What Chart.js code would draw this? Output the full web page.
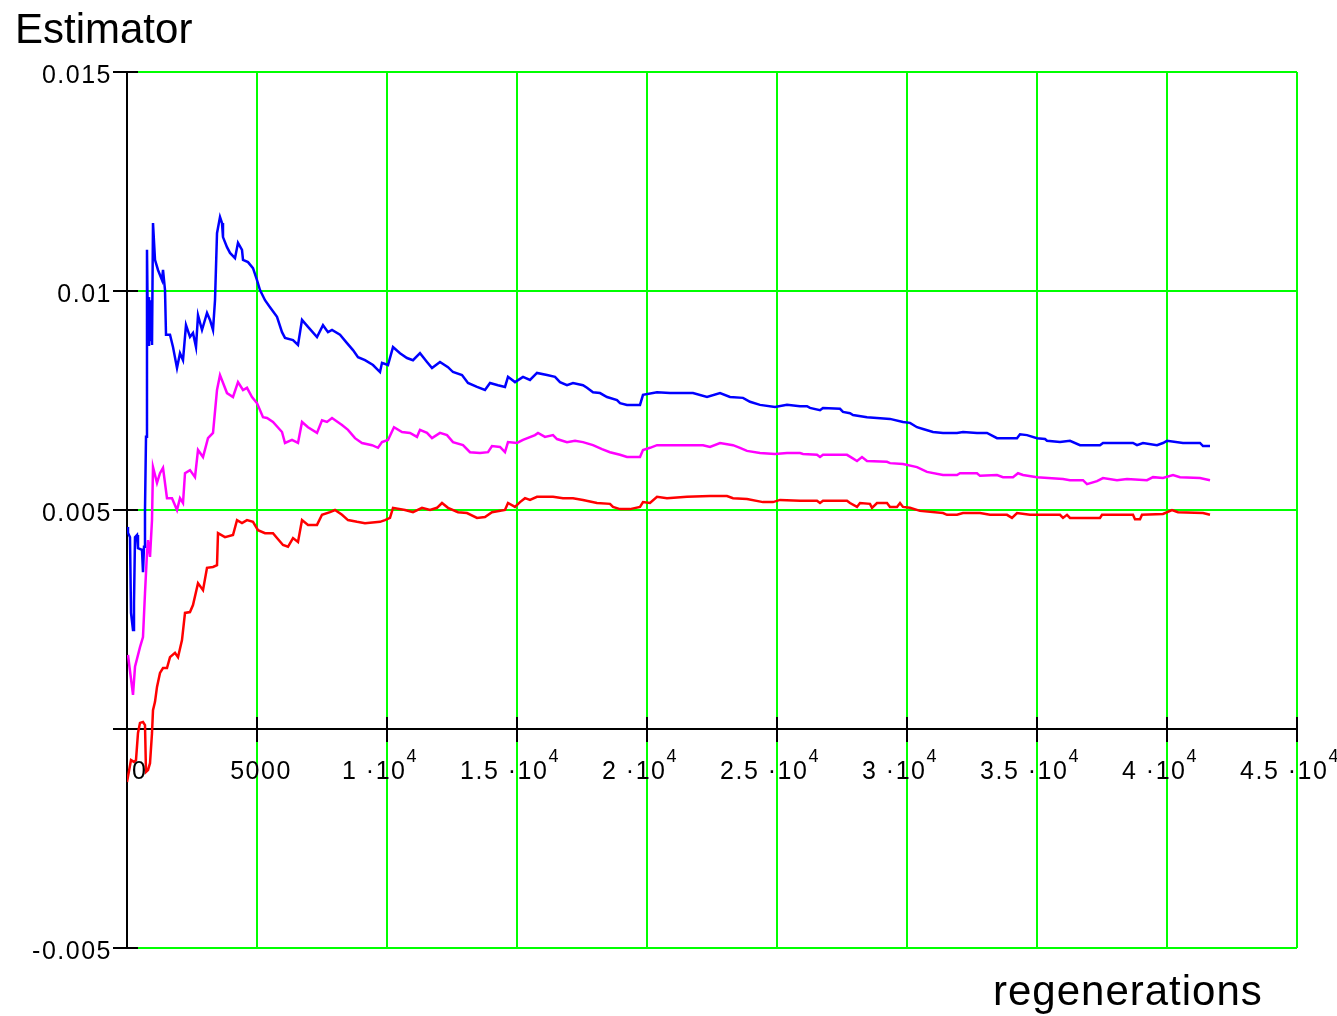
<!DOCTYPE html>
<html>
<head>
<meta charset="utf-8">
<title>Estimator vs regenerations</title>
<script src="https://cdn.jsdelivr.net/npm/chart.js@4.4.1/dist/chart.umd.min.js"></script>
<style>
  html, body { margin: 0; padding: 0; background: #ffffff; }
  #wrap { width: 1337px; height: 1016px; }
</style>
</head>
<body>
<div id="wrap"><canvas id="plot" width="1337" height="1016"></canvas></div>
<script>
// ---- data: running estimator and its bounds vs number of regenerations ----
const upperX = [0,38,115,154,231,269,308,385,423,577,615,654,692,731,769,808,846,885,923,962,1000,1077,1192,1346,1385,1462,1500,1654,1769,1923,2038,2154,2269,2423,2538,2654,2731,2885,3077,3192,3308,3385,3462,3577,3654,3692,3846,3962,4154,4269,4423,4462,4654,4846,5000,5115,5308,5500,5769,5962,6077,6385,6577,6731,6962,7308,7538,7731,7885,8192,8462,8692,8885,9154,9462,9731,9808,10038,10231,10500,10769,11000,11269,11538,11731,12038,12346,12538,12885,13115,13462,13769,13962,14269,14538,14654,14923,15231,15500,15769,16154,16462,16654,16923,17154,17538,17692,17923,18192,18462,18846,18962,19231,19731,19846,20385,20885,21269,21769,22308,22808,23192,23692,23962,24346,24923,25385,25885,26154,26269,26654,26769,27423,27538,27808,27923,28462,29346,29846,30115,30385,30615,31000,31385,31923,32154,32692,33077,33462,34231,34346,34615,35000,35308,35385,35885,36269,36654,37423,37538,38692,38846,39077,39615,39846,40000,40615,41269,41385,41654];
const upperY = [0.00461,0.00448,0.00438,0.00265,0.00226,0.00288,0.00438,0.00443,0.00413,0.00409,0.00358,0.00416,0.00500,0.00667,0.01094,0.00877,0.00986,0.00888,0.00979,0.00877,0.01155,0.01071,0.01048,0.01025,0.01048,0.01002,0.00900,0.00900,0.00872,0.00824,0.00858,0.00842,0.00922,0.00895,0.00904,0.00872,0.00945,0.00911,0.00950,0.00934,0.00911,0.00979,0.01132,0.01169,0.01155,0.01123,0.01100,0.01087,0.01075,0.01110,0.01094,0.01071,0.01066,0.01052,0.01025,0.01002,0.00979,0.00963,0.00941,0.00906,0.00893,0.00888,0.00877,0.00934,0.00918,0.00895,0.00922,0.00906,0.00911,0.00900,0.00881,0.00865,0.00849,0.00842,0.00831,0.00815,0.00836,0.00831,0.00872,0.00858,0.00847,0.00842,0.00858,0.00838,0.00824,0.00838,0.00826,0.00815,0.00808,0.00790,0.00781,0.00774,0.00790,0.00785,0.00781,0.00804,0.00792,0.00804,0.00797,0.00813,0.00808,0.00804,0.00792,0.00785,0.00790,0.00785,0.00779,0.00769,0.00767,0.00758,0.00751,0.00744,0.00740,0.00740,0.00763,0.00769,0.00767,0.00767,0.00767,0.00758,0.00767,0.00758,0.00756,0.00747,0.00740,0.00735,0.00740,0.00737,0.00737,0.00733,0.00728,0.00733,0.00731,0.00724,0.00721,0.00717,0.00712,0.00708,0.00701,0.00699,0.00689,0.00685,0.00678,0.00676,0.00676,0.00678,0.00676,0.00676,0.00664,0.00664,0.00673,0.00671,0.00664,0.00662,0.00658,0.00655,0.00658,0.00648,0.00648,0.00653,0.00653,0.00648,0.00653,0.00648,0.00653,0.00658,0.00653,0.00653,0.00646,0.00646];

const estimateX = [38,231,308,500,615,692,769,808,885,962,1000,1154,1269,1385,1538,1731,1923,2038,2154,2231,2423,2615,2731,2923,3115,3308,3462,3577,3846,4077,4269,4462,4615,4808,5000,5231,5385,5615,5962,6077,6346,6577,6731,6962,7308,7500,7692,7885,8269,8500,8769,9038,9423,9654,9808,10038,10269,10577,10885,11154,11269,11538,11731,12038,12308,12538,12923,13192,13577,13885,14038,14346,14538,14654,15000,15231,15692,15808,16077,16385,16538,16923,17231,17538,17923,18269,18577,18962,19231,19731,19846,20115,20385,21538,22154,22423,22808,23308,23577,23846,24346,24923,25385,25885,26000,26538,26654,26769,27692,27885,28077,28269,28462,29231,29346,29846,30385,30769,31385,31923,32038,32692,32808,33462,33692,34077,34269,34462,35000,36000,36269,36769,36923,37308,37538,38077,38462,39231,39462,39846,40231,40500,41269,41654];
const estimateY = [0.00169,0.00078,0.00142,0.00187,0.00210,0.00310,0.00402,0.00431,0.00393,0.00477,0.00598,0.00562,0.00584,0.00596,0.00527,0.00527,0.00500,0.00527,0.00516,0.00584,0.00591,0.00575,0.00637,0.00621,0.00664,0.00676,0.00774,0.00808,0.00767,0.00758,0.00792,0.00774,0.00779,0.00758,0.00744,0.00712,0.00710,0.00701,0.00678,0.00653,0.00660,0.00653,0.00701,0.00689,0.00676,0.00705,0.00701,0.00710,0.00694,0.00683,0.00664,0.00653,0.00648,0.00642,0.00655,0.00660,0.00689,0.00678,0.00676,0.00667,0.00683,0.00676,0.00664,0.00676,0.00671,0.00655,0.00648,0.00632,0.00630,0.00632,0.00646,0.00644,0.00632,0.00655,0.00653,0.00660,0.00671,0.00676,0.00667,0.00671,0.00662,0.00655,0.00658,0.00655,0.00648,0.00639,0.00632,0.00626,0.00621,0.00621,0.00637,0.00642,0.00648,0.00648,0.00648,0.00644,0.00653,0.00648,0.00642,0.00635,0.00630,0.00628,0.00630,0.00630,0.00628,0.00626,0.00621,0.00626,0.00626,0.00619,0.00612,0.00621,0.00612,0.00610,0.00607,0.00605,0.00598,0.00587,0.00580,0.00580,0.00584,0.00584,0.00578,0.00580,0.00575,0.00575,0.00584,0.00580,0.00575,0.00571,0.00568,0.00568,0.00559,0.00566,0.00573,0.00568,0.00571,0.00568,0.00575,0.00573,0.00580,0.00575,0.00573,0.00568];

const lowerX = [0,154,269,346,423,500,615,692,731,808,885,962,1000,1077,1154,1269,1385,1538,1654,1846,1962,2115,2231,2423,2538,2731,2923,3077,3308,3462,3500,3769,4077,4231,4423,4615,4846,5038,5308,5615,5769,6000,6192,6385,6577,6731,6962,7308,7500,7808,8000,8269,8500,8846,9154,9731,9923,10115,10231,10692,11000,11346,11654,11923,12115,12346,12731,13077,13462,13769,14038,14538,14654,14923,15115,15308,15500,15769,16385,16769,17154,17538,18077,18577,18692,18962,19346,19731,19846,20115,20385,20769,21538,22423,23077,23308,23846,24462,24846,25115,25885,26538,26654,26769,27692,27808,28077,28192,28577,28654,28846,29231,29346,29615,29731,29846,30115,30500,31385,31538,31923,32154,32808,33192,33846,34038,34231,34731,35885,36000,36154,36269,37423,37500,38692,38769,38962,39038,39846,40192,40423,41385,41654];
const lowerY = [-0.00121,-0.00071,-0.00075,-0.00071,-0.00009,0.00014,0.00016,0.00009,-0.00098,-0.00094,-0.00078,-0.00009,0.00043,0.00062,0.00096,0.00128,0.00139,0.00139,0.00164,0.00174,0.00164,0.00203,0.00265,0.00267,0.00283,0.00333,0.00317,0.00368,0.00370,0.00374,0.00447,0.00438,0.00443,0.00477,0.00470,0.00477,0.00473,0.00454,0.00447,0.00447,0.00436,0.00420,0.00416,0.00436,0.00427,0.00477,0.00466,0.00466,0.00489,0.00495,0.00500,0.00489,0.00477,0.00473,0.00470,0.00473,0.00477,0.00482,0.00505,0.00500,0.00495,0.00505,0.00500,0.00505,0.00516,0.00505,0.00495,0.00493,0.00482,0.00484,0.00495,0.00500,0.00516,0.00507,0.00518,0.00527,0.00523,0.00530,0.00530,0.00527,0.00527,0.00523,0.00516,0.00514,0.00507,0.00502,0.00502,0.00507,0.00518,0.00516,0.00530,0.00527,0.00530,0.00532,0.00532,0.00527,0.00525,0.00518,0.00518,0.00523,0.00521,0.00521,0.00516,0.00521,0.00521,0.00516,0.00507,0.00516,0.00514,0.00505,0.00516,0.00516,0.00507,0.00507,0.00516,0.00507,0.00505,0.00498,0.00493,0.00489,0.00489,0.00493,0.00493,0.00489,0.00489,0.00482,0.00493,0.00489,0.00489,0.00482,0.00489,0.00482,0.00482,0.00489,0.00489,0.00479,0.00479,0.00489,0.00491,0.00500,0.00495,0.00493,0.00489];

// axis ticks and their printed labels
const xTickValues = [0, 5000, 10000, 15000, 20000, 25000, 30000, 35000, 40000, 45000];
const xTickMantissas = ["0", "5000", "1 \u00b710", "1.5 \u00b710", "2 \u00b710", "2.5 \u00b710", "3 \u00b710", "3.5 \u00b710", "4 \u00b710", "4.5 \u00b710"];
const xTickExponents = ["", "", "4", "4", "4", "4", "4", "4", "4", "4"];
const yTickValues = [0.015, 0.01, 0.005, -0.005];
const yTickLabels = ["0.015", "0.01", "0.005", "-0.005"];

const titleText = "Estimator";
const xAxisText = "regenerations";

function zip(xs, ys) {
  return xs.map((x, i) => ({ x: x, y: ys[i] }));
}

const LABEL_FONT = '25px "Liberation Sans", Arial, sans-serif';
const SUP_FONT = '18px "Liberation Sans", Arial, sans-serif';
const BIG_FONT = '42px "Liberation Sans", Arial, sans-serif';

// black axes through the origin with short crossing tick marks
const axesPlugin = {
  id: 'originAxes',
  beforeDatasetsDraw(chart) {
    const ctx = chart.ctx;
    const xs = chart.scales.x, ys = chart.scales.y;
    const x0 = Math.round(xs.getPixelForValue(0));
    const y0 = Math.round(ys.getPixelForValue(0));
    ctx.save();
    ctx.strokeStyle = '#000000';
    ctx.lineWidth = 2;
    ctx.beginPath();
    ctx.moveTo(x0, ys.top);
    ctx.lineTo(x0, ys.bottom);
    ctx.moveTo(x0 - 14, y0);
    ctx.lineTo(xs.right + 1, y0);
    yTickValues.forEach(v => {
      const py = Math.round(ys.getPixelForValue(v));
      ctx.moveTo(x0 - 14, py);
      ctx.lineTo(x0 + 11, py);
    });
    xTickValues.forEach(v => {
      if (v === 0) return;
      const px = Math.round(xs.getPixelForValue(v));
      ctx.moveTo(px, y0 - 12);
      ctx.lineTo(px, y0 + 13);
    });
    ctx.stroke();
    ctx.restore();
  },
  afterDraw(chart) {
    const ctx = chart.ctx;
    const xs = chart.scales.x, ys = chart.scales.y;
    const y0 = ys.getPixelForValue(0);
    ctx.save();
    ctx.fillStyle = '#000000';
    ctx.textBaseline = 'alphabetic';
    ctx.letterSpacing = '1.5px';

    // y tick labels, right aligned left of the axis
    ctx.font = LABEL_FONT;
    ctx.textAlign = 'right';
    yTickValues.forEach((v, i) => {
      const py = ys.getPixelForValue(v);
      ctx.fillText(yTickLabels[i], 112, py + 11);
    });

    // x tick labels below the axis, with superscript exponents
    ctx.textAlign = 'left';
    xTickValues.forEach((v, i) => {
      const px = xs.getPixelForValue(v);
      const main = xTickMantissas[i];
      const sup = xTickExponents[i];
      ctx.font = LABEL_FONT;
      const wMain = ctx.measureText(main).width;
      ctx.font = SUP_FONT;
      const wSup = sup ? ctx.measureText(sup).width : 0;
      const total = wMain + wSup;
      let left;
      if (sup) left = px - 7 - total / 2;
      else if (v === 0) left = px + 5;
      else left = px + 4 - total / 2;
      ctx.font = LABEL_FONT;
      ctx.fillText(main, left, y0 + 50);
      if (sup) {
        ctx.font = SUP_FONT;
        ctx.fillText(sup, left + wMain, y0 + 33);
      }
    });

    // chart title and axis caption
    ctx.letterSpacing = '0px';
    ctx.font = BIG_FONT;
    ctx.fillText(titleText, 15, 43);
    ctx.letterSpacing = '1px';
    ctx.fillText(xAxisText, 993, 1005);
    ctx.restore();
  }
};

const lineStyle = (color) => ({
  borderColor: color,
  backgroundColor: color,
  borderWidth: 2.5,
  pointRadius: 0,
  showLine: true,
  fill: false,
  tension: 0
});

new Chart(document.getElementById('plot'), {
  type: 'scatter',
  data: {
    datasets: [
      Object.assign({ label: 'upper', data: zip(upperX, upperY) }, lineStyle('#0000ff')),
      Object.assign({ label: 'estimate', data: zip(estimateX, estimateY) }, lineStyle('#ff00ff')),
      Object.assign({ label: 'lower', data: zip(lowerX, lowerY) }, lineStyle('#ff0000'))
    ]
  },
  options: {
    responsive: false,
    animation: false,
    devicePixelRatio: 1,
    layout: { padding: { top: 72, right: 40, bottom: 0, left: 0 } },
    plugins: { legend: { display: false }, tooltip: { enabled: false }, title: { display: false } },
    scales: {
      x: {
        type: 'linear',
        min: 0,
        max: 45000,
        afterBuildTicks: (s) => { s.ticks = xTickValues.map(v => ({ value: v })); },
        afterFit: (s) => { s.height = 68; },
        ticks: { display: false },
        grid: { color: '#00ff00', lineWidth: 2, drawTicks: false },
        border: { display: false }
      },
      y: {
        type: 'linear',
        min: -0.005,
        max: 0.015,
        afterBuildTicks: (s) => { s.ticks = [-0.005, 0, 0.005, 0.01, 0.015].map(v => ({ value: v })); },
        afterFit: (s) => { s.width = 127; },
        ticks: { display: false },
        grid: { color: '#00ff00', lineWidth: 2, drawTicks: false },
        border: { display: false }
      }
    }
  },
  plugins: [axesPlugin]
});
</script>
</body>
</html>
